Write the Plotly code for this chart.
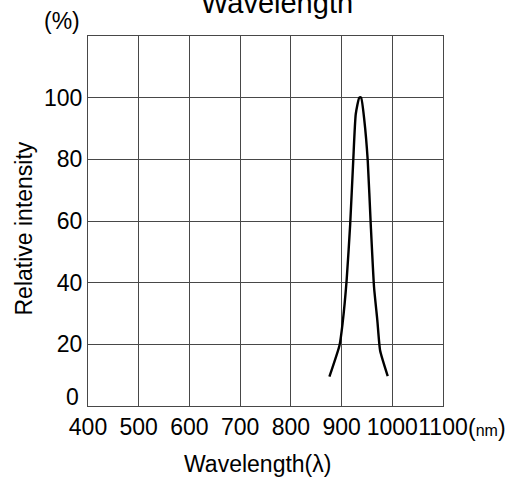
import plotly.graph_objects as go

wavelength_nm = [876, 896, 902, 910, 917, 923, 928, 935, 938.5, 945, 951.6, 957.5, 964, 970.5, 976, 991]
relative_intensity = [9.5, 19.7, 26.8, 40.8, 59, 79.6, 94.7, 100, 100, 92.5, 79.6, 59, 38.6, 27.8, 18, 9.7]
x_ticks = [400, 500, 600, 700, 800, 900, 1000, 1100]
y_ticks = [0, 20, 40, 60, 80, 100]

FONT = "Liberation Sans, Arial, sans-serif"
W, H = 519, 483
L, R, T, B = 88, 76, 36, 77
ph = H - T - B
pw = W - L - R

fig = go.Figure()
fig.add_trace(go.Scatter(x=wavelength_nm, y=relative_intensity, mode="lines",
                         line=dict(color="black", width=2.4, shape="spline", smoothing=0.5),
                         hoverinfo="skip", showlegend=False))

grid = "#484848"
fig.update_layout(
    width=W, height=H,
    margin=dict(l=L, r=R, t=T, b=B, pad=0, autoexpand=False),
    paper_bgcolor="white", plot_bgcolor="white",
    font=dict(family=FONT, size=23, color="black"),
    showlegend=False,
    xaxis=dict(range=[400, 1100], tickvals=x_ticks, ticktext=[str(v) for v in x_ticks],
               showgrid=True, gridcolor=grid, gridwidth=1, automargin=False, tickangle=0,
               showline=True, linecolor=grid, linewidth=1, mirror=True,
               zeroline=False, ticks="", tickfont=dict(size=23)),
    yaxis=dict(range=[0, 120], tickvals=y_ticks, ticktext=[("" if v == 0 else str(v)) for v in y_ticks],
               showgrid=True, gridcolor=grid, gridwidth=1, automargin=False,
               showline=True, linecolor=grid, linewidth=1, mirror=True,
               zeroline=False, ticks="", tickfont=dict(size=23)),
)

def px_x(x):
    return (x - L) / pw

def px_y(y):
    return (H - B - y) / ph

ann = [
    dict(text="Wavelength", x=px_x(277), y=px_y(3), font=dict(size=29)),
    dict(text="(%)", x=px_x(62), y=px_y(21), font=dict(size=23)),
    dict(text="(<span style='font-size:16px'>nm</span>)", x=px_x(487), y=px_y(428), font=dict(size=23)),
    dict(text="Wavelength(λ)", x=px_x(257.5), y=px_y(464), font=dict(size=23)),
    dict(text="Relative intensity", x=px_x(23), y=px_y(228.5), textangle=-90, font=dict(size=23)),
]
for a in ann:
    fig.add_annotation(xref="paper", yref="paper", showarrow=False,
                       xanchor="center", yanchor="middle", **a)
# the "0" tick label sits a little above the axis in the reference
fig.add_annotation(xref="paper", yref="y", x=px_x(81), y=y_ticks[0] + 3, text=str(y_ticks[0]),
                   showarrow=False, xanchor="right", yanchor="middle", font=dict(size=23))

fig.write_html("out.html", config={"displayModeBar": False},
               post_script="document.body.style.margin='0';document.body.style.overflow='hidden';")
